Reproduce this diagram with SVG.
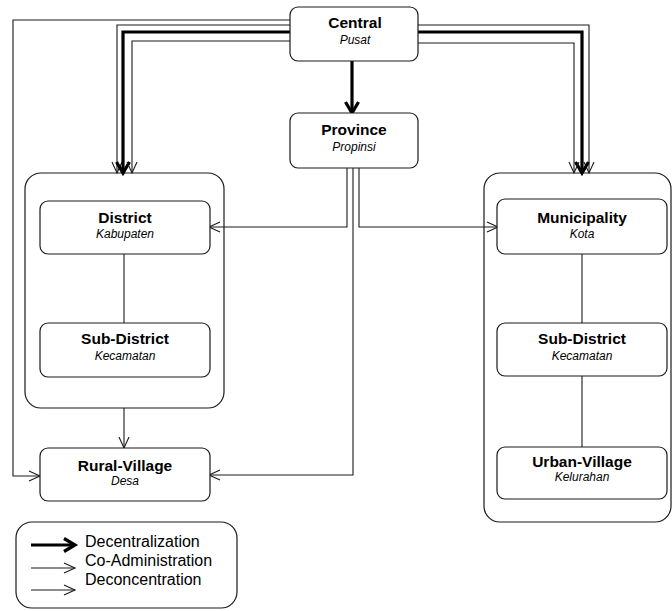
<svg xmlns="http://www.w3.org/2000/svg" width="672" height="611" viewBox="0 0 672 611">
<style>
.box{fill:#fff;stroke:#1a1a1a;stroke-width:1.2}
.cont{fill:none;stroke:#1a1a1a;stroke-width:1.2}
.t{font-family:"Liberation Sans",Arial,sans-serif;font-size:15.5px;font-weight:bold;text-anchor:middle;fill:#000}
.s{font-family:"Liberation Sans",Arial,sans-serif;font-size:12px;font-style:italic;text-anchor:middle;fill:#000}
.lg{font-family:"Liberation Sans",Arial,sans-serif;font-size:16px;fill:#000}
.thin{fill:none;stroke:#1a1a1a;stroke-width:1.1}
.thick{fill:none;stroke:#000;stroke-width:3.2}
</style>
<defs>
<marker id="a" markerUnits="userSpaceOnUse" viewBox="0 0 12 12" refX="11" refY="6" markerWidth="12" markerHeight="12" orient="auto" overflow="visible">
<path d="M0,1 L11,6 L0,11" fill="none" stroke="#1a1a1a" stroke-width="1.1"/>
</marker>
<marker id="b" markerUnits="userSpaceOnUse" viewBox="0 0 14 14" refX="12" refY="7" markerWidth="14" markerHeight="14" orient="auto" overflow="visible">
<path d="M1,0.5 L12,7 L1,13.5" fill="none" stroke="#000" stroke-width="3.2"/>
</marker>
</defs>

<g id="containers">
<rect id="district-container" class="cont" x="25" y="173" width="199" height="235" rx="16"/>
<rect id="municipality-container" class="cont" x="484" y="173" width="187" height="349" rx="16"/>
</g>

<g id="connectors">
<!-- Central outer to Rural-Village -->
<path class="thin" d="M290,20 H13 V476 H40" marker-end="url(#a)"/>
<!-- Central to District container -->
<path class="thin" d="M290,25 H117 V173" marker-end="url(#a)"/>
<path class="thick" d="M290,32 H123 V173" marker-end="url(#b)"/>
<path class="thin" d="M290,41 H132 V173" marker-end="url(#a)"/>
<!-- Central to Municipality container -->
<path class="thin" d="M418,25 H589 V173" marker-end="url(#a)"/>
<path class="thick" d="M418,32 H582 V173" marker-end="url(#b)"/>
<path class="thin" d="M418,43 H574 V173" marker-end="url(#a)"/>
<!-- Central to Province -->
<path class="thick" d="M352,61 V113" marker-end="url(#b)"/>
<!-- Province connectors -->
<path class="thin" d="M347,168 V227 H209" marker-end="url(#a)"/>
<path class="thin" d="M353,168 V475 H209" marker-end="url(#a)"/>
<path class="thin" d="M359,168 V227 H498" marker-end="url(#a)"/>
<!-- inner links -->
<path class="thin" d="M124,254 V323"/>
<path class="thin" d="M124,408 V448" marker-end="url(#a)"/>
<path class="thin" d="M582,254 V323"/>
<path class="thin" d="M582,376 V447"/>
</g>

<g id="central">
<rect class="box" x="290" y="7" width="128" height="54" rx="8"/>
<text class="t" x="355" y="28">Central</text>
<text class="s" x="355" y="44">Pusat</text>
</g>
<g id="province">
<rect class="box" x="290" y="113" width="128" height="55" rx="8"/>
<text class="t" x="354" y="135">Province</text>
<text class="s" x="354" y="151">Propinsi</text>
</g>
<g id="district">
<rect class="box" x="40" y="201" width="170" height="53" rx="8"/>
<text class="t" x="125" y="223">District</text>
<text class="s" x="125" y="238">Kabupaten</text>
</g>
<g id="sub-district-left">
<rect class="box" x="40" y="323" width="170" height="54" rx="8"/>
<text class="t" x="125" y="344">Sub-District</text>
<text class="s" x="125" y="360">Kecamatan</text>
</g>
<g id="rural-village">
<rect class="box" x="40" y="448" width="170" height="53" rx="8"/>
<text class="t" x="125" y="471">Rural-Village</text>
<text class="s" x="125" y="485">Desa</text>
</g>
<g id="municipality">
<rect class="box" x="497" y="199" width="170" height="55" rx="8"/>
<text class="t" x="582" y="223">Municipality</text>
<text class="s" x="582" y="238">Kota</text>
</g>
<g id="sub-district-right">
<rect class="box" x="497" y="323" width="170" height="53" rx="8"/>
<text class="t" x="582" y="344">Sub-District</text>
<text class="s" x="582" y="360">Kecamatan</text>
</g>
<g id="urban-village">
<rect class="box" x="497" y="447" width="170" height="52" rx="8"/>
<text class="t" x="582" y="467">Urban-Village</text>
<text class="s" x="582" y="481">Kelurahan</text>
</g>

<g id="legend">
<rect class="cont" x="16" y="522" width="221" height="86" rx="16"/>
<path class="thick" d="M31,545 H75" marker-end="url(#b)"/>
<path class="thin" d="M31,568 H75" marker-end="url(#a)"/>
<path class="thin" d="M31,590 H75" marker-end="url(#a)"/>
<text class="lg" x="85" y="547">Decentralization</text>
<text class="lg" x="85" y="566">Co-Administration</text>
<text class="lg" x="85" y="585">Deconcentration</text>
</g>
</svg>
